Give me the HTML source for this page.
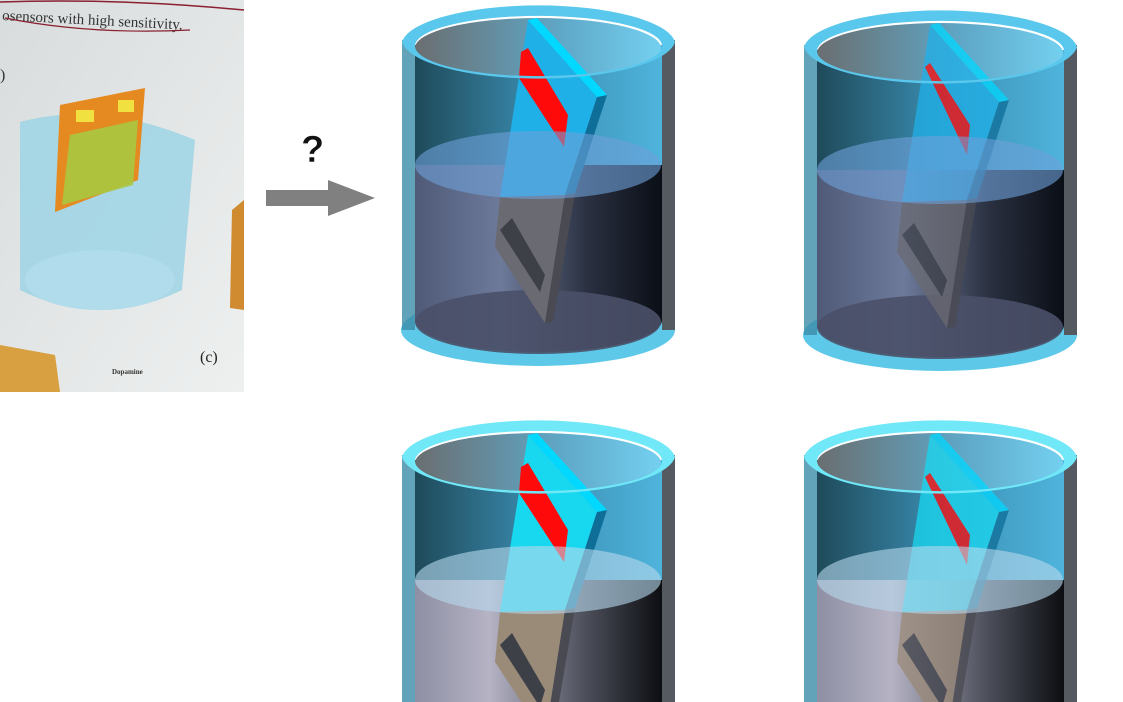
<!DOCTYPE html>
<html><head><meta charset="utf-8"><style>
html,body{margin:0;padding:0;background:#fff;width:1123px;height:702px;overflow:hidden;}
svg{display:block;}
</style></head><body>
<svg id="s" width="1123" height="702" viewBox="0 0 1123 702" xmlns="http://www.w3.org/2000/svg">
<defs>
<clipPath id="frame"><rect x="0" y="0" width="1123" height="702"/></clipPath>
<linearGradient id="wallTop" x1="0" x2="1"><stop offset="0" stop-color="#1f4a5a"/><stop offset="0.5" stop-color="#3a8cb0"/><stop offset="1" stop-color="#4fb4dc"/></linearGradient>
<linearGradient id="wallBot" x1="0" x2="1"><stop offset="0" stop-color="#4f5a78"/><stop offset="0.35" stop-color="#6d7a9a"/><stop offset="0.7" stop-color="#2a3040"/><stop offset="1" stop-color="#0a0e16"/></linearGradient>
<linearGradient id="wallBot2" x1="0" x2="1"><stop offset="0" stop-color="#8e8fa4"/><stop offset="0.3" stop-color="#b5b3c4"/><stop offset="0.7" stop-color="#4a4c58"/><stop offset="1" stop-color="#0c0e12"/></linearGradient>
<linearGradient id="inner" x1="0" x2="1"><stop offset="0" stop-color="#6a6e70"/><stop offset="0.6" stop-color="#5fa8c8"/><stop offset="1" stop-color="#74d0f0"/></linearGradient>
<linearGradient id="photoBg" x1="0" y1="0" x2="1" y2="1"><stop offset="0" stop-color="#d8dcdc"/><stop offset="1" stop-color="#eef0f0"/></linearGradient>
</defs>

<g>
<rect x="0" y="0" width="244" height="392" fill="url(#photoBg)"/>
<path d="M0 2 Q120 -2 244 10" stroke="#8a2030" fill="none" stroke-width="1.5"/>
<text x="2" y="20" font-family="Liberation Serif, serif" font-size="15" fill="#333" transform="rotate(3 2 20)">osensors with high sensitivity.</text>
<path d="M5 18 Q90 35 190 30" stroke="#8a2030" fill="none" stroke-width="1.2"/>
<text x="0" y="80" font-family="Liberation Serif, serif" font-size="16" fill="#333">)</text>
<path d="M20 122 Q100 100 195 140 L182 290 Q100 330 20 290 Z" fill="#9ed4e4" opacity="0.85"/>
<ellipse cx="100" cy="280" rx="75" ry="30" fill="#b0dceb"/>
<polygon points="60,105 145,88 138,180 55,212" fill="#e48a20"/>
<polygon points="70,135 138,120 133,185 62,205" fill="#a8c840" opacity="0.9"/>
<rect x="76" y="110" width="18" height="12" fill="#f0e040"/>
<rect x="118" y="100" width="16" height="12" fill="#f0e040"/>
<polygon points="0,345 55,355 60,392 0,392" fill="#d8a040"/>
<polygon points="232,210 244,200 244,310 230,308" fill="#d08a30"/>
<text x="200" y="362" font-family="Liberation Serif, serif" font-size="16" fill="#222">(c)</text>
<text x="112" y="374" font-family="Liberation Serif, serif" font-size="7" font-weight="bold" fill="#333">Dopamine</text>
</g>

<g>
<polygon points="266,190 328,190 328,180 375,198 328,216 328,206 266,206" fill="#808080"/>
</g>
<text x="301" y="162" font-family="Liberation Sans, sans-serif" font-size="38" font-weight="bold" fill="#111" stroke="#fff" stroke-width="0.5">?</text>
<g clip-path="url(#frame)"><g id="cyls"></g></g>
</svg>
<script>
const NS='http://www.w3.org/2000/svg';
const root=document.getElementById('cyls');
function el(tag,attrs,parent){const e=document.createElementNS(NS,tag);for(const k in attrs)e.setAttribute(k,attrs[k]);parent.appendChild(e);return e;}
const cylinders=[
 {dx:0,dy:0,trans:false,light:false,name:'beaker-top-left'},
 {dx:402,dy:5,trans:true,light:false,name:'beaker-top-right'},
 {dx:0,dy:415,trans:false,light:true,name:'beaker-bottom-left'},
 {dx:402,dy:415,trans:true,light:true,name:'beaker-bottom-right'}
];
cylinders.forEach(c=>{
 const g=el('g',{transform:`translate(${c.dx},${c.dy})`},root);
 
 
 const h = c.dy>300 ? 287-c.dy+415 : 330;
 el('ellipse',{cx:538,cy:330,rx:137,ry:36,fill:'#5ec8e8'},g);
 el('path',{d:'M415 165 L415 320 A123 32 0 0 0 662 320 L662 165 Z',fill:c.light?'url(#wallBot2)':'url(#wallBot)'},g);
 el('ellipse',{cx:538,cy:322,rx:123,ry:32,fill:c.light?'#8a8c9c':'#4a5068',opacity:0.9},g);
 el('path',{d:'M415 45 L415 165 L662 165 L662 45 Z',fill:'url(#wallTop)'},g);
 el('ellipse',{cx:538,cy:48,rx:123,ry:30,fill:'url(#inner)'},g);
 el('rect',{x:662,y:40,width:13,height:290,fill:'#555a60'},g);
 el('rect',{x:402,y:40,width:13,height:290,fill:'#3c8ca8',opacity:0.8},g);
 const pg=el('g',{opacity:c.trans?0.75:1},g);
 el('polygon',{points:'500,197 565,195 545,323 495,247',fill:c.light?'#9a8a78':'#6a6a72'},pg);
 el('polygon',{points:'565,195 575,193 553,322 545,323',fill:'#4a4a52'},pg);
 el('polygon',{points:'500,230 512,218 545,275 540,292',fill:'#3e4048'},pg);
 el('polygon',{points:'528,20 597,97 565,195 500,197',fill:c.light?'#18d8f0':'#1fb0e8'},pg);
 el('polygon',{points:'597,97 607,95 575,193 565,195',fill:'#0e6e98'},pg);
 el('polygon',{points:'528,20 537,18 607,95 597,97',fill:'#00d8ff'},pg);
 el('polygon',{points:c.trans?'523,62 528,58 568,120 565,150':'521,52 528,48 568,115 564,147 519,78',fill:'#ff0a0a'},pg);
 el('ellipse',{cx:538,cy:165,rx:123,ry:34,fill:c.light?'#b8d8ec':'#6ea0d8',opacity:0.6},g);
 el('path',{d:'M402 42 A137 40 0 0 1 675 42 A137 40 0 0 1 402 42 Z M415 46 A123 30 0 0 0 662 46 A123 30 0 0 0 415 46 Z','fill-rule':'evenodd',fill:c.light?'#70e8f8':'#5ac8ec'},g);
});
</script>
</body></html>
